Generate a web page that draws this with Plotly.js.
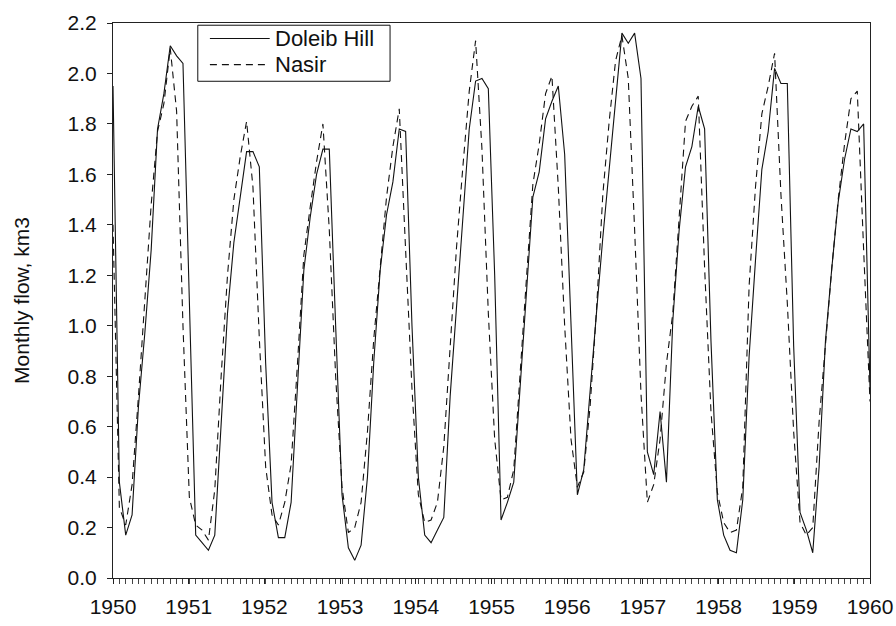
<!DOCTYPE html>
<html>
<head>
<meta charset="utf-8">
<script src="https://cdn.plot.ly/plotly-3.0.1.min.js"></script>
<style>html,body{margin:0;padding:0;background:#fff;}#chart{width:896px;height:626px;}</style>
</head>
<body>
<div id="chart"></div>
<script>
// Monthly flow, km3 — 120 monthly values, Jan 1950 .. Dec 1959
const seriesNames = ["Doleib Hill", "Nasir"];
const yearLabels = [1950, 1951, 1952, 1953, 1954, 1955, 1956, 1957, 1958, 1959, 1960];

const doleibHill = [
  1.95, 0.38, 0.17, 0.25, 0.68, 0.97, 1.30, 1.78, 1.92, 2.11, 2.07, 2.04,
  1.10, 0.17, 0.14, 0.11, 0.17, 0.62, 1.05, 1.33, 1.50, 1.69, 1.69, 1.63,
  0.85, 0.30, 0.16, 0.16, 0.30, 0.76, 1.22, 1.43, 1.60, 1.70, 1.70, 1.00,
  0.33, 0.12, 0.07, 0.13, 0.40, 0.86, 1.22, 1.44, 1.57, 1.78, 1.77, 1.00,
  0.40, 0.17, 0.14, 0.19, 0.24, 0.72, 1.08, 1.42, 1.78, 1.97, 1.98, 1.94,
  1.20, 0.23, 0.30, 0.38, 0.75, 1.15, 1.51, 1.61, 1.82, 1.89, 1.95, 1.68,
  1.00, 0.33, 0.43, 0.75, 1.05, 1.35, 1.62, 1.90, 2.16, 2.12, 2.16, 1.98,
  0.50, 0.41, 0.66, 0.38, 1.02, 1.38, 1.63, 1.71, 1.87, 1.78, 0.94, 0.31,
  0.17, 0.11, 0.10, 0.31, 0.88, 1.26, 1.62, 1.77, 2.02, 1.96, 1.96, 0.92,
  0.26, 0.19, 0.10, 0.44, 0.94, 1.23, 1.49, 1.66, 1.78, 1.77, 1.80, 0.75
];

const nasir = [
  1.40, 0.28, 0.21, 0.37, 0.72, 1.08, 1.48, 1.77, 1.88, 2.10, 1.85, 1.00,
  0.32, 0.21, 0.19, 0.15, 0.35, 0.80, 1.20, 1.50, 1.67, 1.81, 1.55, 0.95,
  0.44, 0.25, 0.21, 0.30, 0.45, 0.85, 1.28, 1.47, 1.65, 1.80, 1.38, 0.80,
  0.36, 0.18, 0.20, 0.30, 0.58, 0.95, 1.24, 1.51, 1.71, 1.86, 1.30, 0.75,
  0.33, 0.22, 0.23, 0.30, 0.52, 0.90, 1.31, 1.63, 1.93, 2.13, 1.70, 1.05,
  0.55, 0.31, 0.32, 0.43, 0.83, 1.19, 1.56, 1.72, 1.92, 1.99, 1.55, 1.00,
  0.55, 0.36, 0.42, 0.68, 1.06, 1.52, 1.81, 2.05, 2.15, 1.98, 1.38, 0.73,
  0.30, 0.37, 0.55, 0.85, 1.05, 1.45, 1.81, 1.87, 1.91, 1.23, 0.66, 0.34,
  0.22, 0.18, 0.19, 0.36, 1.16, 1.55, 1.84, 1.95, 2.08, 1.52, 1.09, 0.58,
  0.22, 0.17, 0.20, 0.62, 0.94, 1.23, 1.50, 1.72, 1.90, 1.93, 1.30, 0.70
];

// the 120 points are spread evenly from the first to the last year label
const x0 = yearLabels[0], x1 = yearLabels[yearLabels.length - 1];
const step = (x1 - x0) / (doleibHill.length - 1);
const xs = doleibHill.map((_, i) => x0 + i * step);

const font = "Liberation Sans, Arial, sans-serif";
const ink = "#111";
const dashPattern = "7px,5px";

const traces = [
  {x: xs, y: doleibHill, name: seriesNames[0], type: "scatter", mode: "lines",
   line: {color: ink, width: 1.1}},
  {x: xs, y: nasir, name: seriesNames[1], type: "scatter", mode: "lines",
   line: {color: ink, width: 1.1, dash: dashPattern}}
];

// legend box drawn in paper coordinates (long line samples, as in the original)
const lg = {x0: 0.112, x1: 0.366, y0: 0.895, y1: 0.996,
            lineX0: 0.128, lineX1: 0.207, textX: 0.211, row1: 0.972, row2: 0.925};

const layout = {
  width: 896, height: 626,
  margin: {l: 113, r: 26, t: 23, b: 48},
  paper_bgcolor: "#fff", plot_bgcolor: "#fff",
  font: {family: font, size: 21, color: ink},
  showlegend: false,
  shapes: [
    {type: "rect", xref: "paper", yref: "paper", x0: lg.x0, x1: lg.x1, y0: lg.y0, y1: lg.y1,
     line: {color: ink, width: 1}, fillcolor: "#fff", layer: "above"},
    {type: "line", xref: "paper", yref: "paper", x0: lg.lineX0, x1: lg.lineX1, y0: lg.row1, y1: lg.row1,
     line: {color: ink, width: 1.1}, layer: "above"},
    {type: "line", xref: "paper", yref: "paper", x0: lg.lineX0, x1: lg.lineX1, y0: lg.row2, y1: lg.row2,
     line: {color: ink, width: 1.1, dash: dashPattern}, layer: "above"}
  ],
  annotations: [
    {xref: "paper", yref: "paper", x: lg.textX, y: lg.row1, xanchor: "left", yanchor: "middle",
     text: seriesNames[0], showarrow: false, font: {family: font, size: 22, color: ink}},
    {xref: "paper", yref: "paper", x: lg.textX, y: lg.row2, xanchor: "left", yanchor: "middle",
     text: seriesNames[1], showarrow: false, font: {family: font, size: 22, color: ink}}
  ],
  xaxis: {range: [x0, x1], tickmode: "array", tickvals: yearLabels,
          ticktext: yearLabels.map(String),
          ticks: "outside", ticklen: 5, tickcolor: "#222", ticklabelstandoff: 5,
          showline: true, linecolor: "#222", linewidth: 1, mirror: true,
          showgrid: false, zeroline: false,
          minor: {tickmode: "linear", tick0: x0, dtick: step, ticks: "outside",
                  ticklen: 5, tickcolor: "#444", showgrid: false},
          tickfont: {family: font, size: 21}},
  yaxis: {range: [0, 2.2], dtick: 0.2, tick0: 0, tickformat: ".1f",
          ticks: "outside", ticklen: 5, tickcolor: "#222", ticklabelstandoff: 6,
          showline: true, linecolor: "#222", linewidth: 1, mirror: true,
          showgrid: false, zeroline: false,
          title: {text: "Monthly flow, km3", font: {family: font, size: 21}, standoff: 32},
          tickfont: {family: font, size: 21}}
};

Plotly.newPlot("chart", traces, layout, {displayModeBar: false, staticPlot: true});
</script>
</body>
</html>
